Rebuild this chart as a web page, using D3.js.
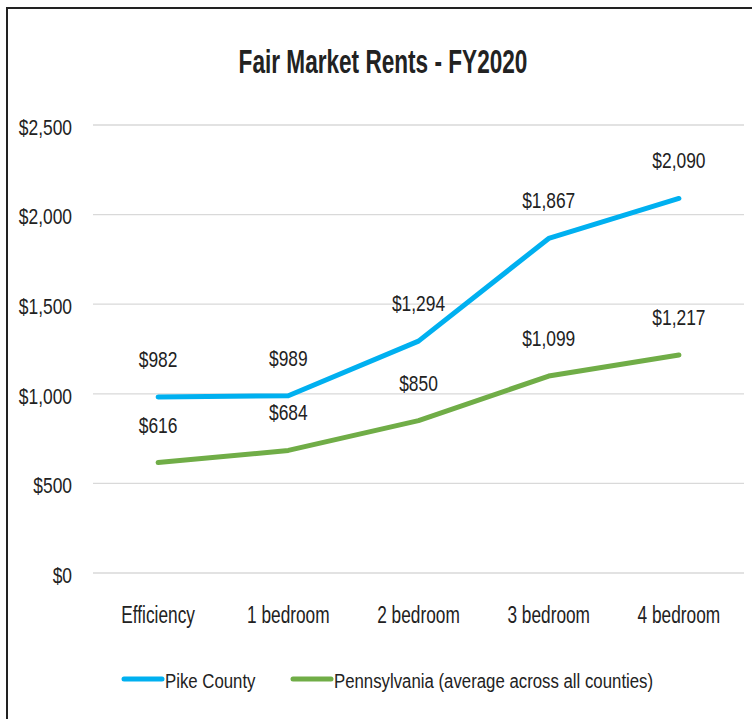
<!DOCTYPE html>
<html>
<head>
<meta charset="utf-8">
<script src="https://cdn.jsdelivr.net/npm/d3@7"></script>
<style>
  body { margin: 0; background: #fff; }
  svg text { font-family: "Liberation Sans", Arial, sans-serif; fill: #222; }
</style>
</head>
<body>
<div id="chart"></div>
<script>
// Fair Market Rents chart data
const categories = ["Efficiency", "1 bedroom", "2 bedroom", "3 bedroom", "4 bedroom"];
const pikeCounty = [982, 989, 1294, 1867, 2090];
const pennsylvania = [616, 684, 850, 1099, 1217];
const yTicks = [0, 500, 1000, 1500, 2000, 2500];
const seriesNames = ["Pike County", "Pennsylvania (average across all counties)"];

const width = 752, height = 719;
const margin = { top: 125, right: 8, bottom: 146, left: 93 };

// the original uses a narrow font, so text gets squeezed horizontally
const numSqueeze = 0.79, wordSqueeze = 0.72, legendSqueeze = 0.8;

const svg = d3.select("#chart").append("svg")
  .attr("width", width)
  .attr("height", height);

// outer frame (only top and left edges visible in the original crop)
svg.append("path")
  .attr("d", `M7,${height} L7,8 L${width},8`)
  .attr("fill", "none")
  .attr("stroke", "#222")
  .attr("stroke-width", 2);

svg.append("text")
  .attr("transform", "translate(383,73) scale(0.685,1)")
  .attr("text-anchor", "middle")
  .attr("font-size", "33px")
  .attr("font-weight", "bold")
  .attr("fill", "#111")
  .text("Fair Market Rents - FY2020");

const x = d3.scaleBand()
  .domain(categories)
  .range([margin.left, width - margin.right]);

const y = d3.scaleLinear()
  .domain([0, 2500])
  .range([height - margin.bottom, margin.top]);

// gridlines
svg.append("g")
  .selectAll("line")
  .data(yTicks)
  .join("line")
  .attr("x1", margin.left)
  .attr("x2", width - margin.right)
  .attr("y1", d => y(d))
  .attr("y2", d => y(d))
  .attr("stroke", "#d9d9d9")
  .attr("stroke-width", 1.3);

// y axis labels
const fmt = d3.format("$,");
const yAxis = svg.append("g")
  .attr("transform", `translate(${margin.left - 21},0)`)
  .call(d3.axisLeft(y).tickValues(yTicks).tickFormat(fmt).tickSize(0).tickPadding(0));
yAxis.select(".domain").remove();
yAxis.selectAll("text")
  .attr("font-size", "22px")
  .attr("fill", "#222")
  .attr("dy", "0.42em")
  .attr("transform", `scale(${numSqueeze},1)`);

// x axis labels
const xAxis = svg.append("g")
  .attr("transform", `translate(0,${height - margin.bottom})`)
  .call(d3.axisBottom(x).tickSize(0).tickPadding(0));
xAxis.select(".domain").remove();
xAxis.selectAll("text")
  .attr("font-size", "24px")
  .attr("fill", "#222")
  .attr("y", 50)
  .attr("dy", 0)
  .attr("transform", `scale(${wordSqueeze},1)`);

const series = [
  { name: seriesNames[0], values: pikeCounty, color: "#00b0f0" },
  { name: seriesNames[1], values: pennsylvania, color: "#70ad47" }
];

const cx = i => x(categories[i]) + x.bandwidth() / 2;

const line = d3.line()
  .x((d, i) => cx(i))
  .y(d => y(d));

series.forEach(s => {
  svg.append("path")
    .datum(s.values)
    .attr("fill", "none")
    .attr("stroke", s.color)
    .attr("stroke-width", 5)
    .attr("stroke-linecap", "round")
    .attr("stroke-linejoin", "round")
    .attr("d", line);

  svg.append("g")
    .selectAll("text")
    .data(s.values)
    .join("text")
    .attr("transform", (d, i) => `translate(${cx(i)},${y(d) - 30}) scale(${numSqueeze},1)`)
    .attr("text-anchor", "middle")
    .attr("font-size", "22px")
    .text(d => fmt(d));
});

// legend
const legendX = [123, 292];
const legend = svg.append("g").attr("transform", "translate(0,679)");
series.forEach((s, i) => {
  const g = legend.append("g").attr("transform", `translate(${legendX[i]},0)`);
  g.append("line")
    .attr("x1", 1).attr("x2", 39)
    .attr("y1", 0).attr("y2", 0)
    .attr("stroke", s.color)
    .attr("stroke-width", 5)
    .attr("stroke-linecap", "round");
  g.append("text")
    .attr("transform", `translate(42,9) scale(${legendSqueeze},1)`)
    .attr("font-size", "21px")
    .text(s.name);
});
</script>
</body>
</html>
